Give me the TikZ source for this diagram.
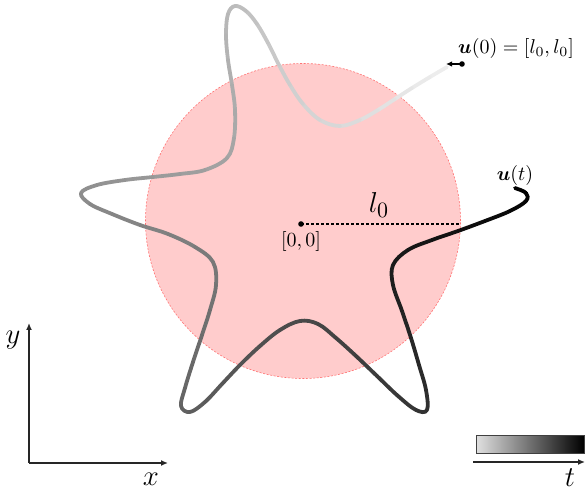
\documentclass[tikz,border=0pt]{standalone}
\usepackage{bm}
\usetikzlibrary{calc,arrows.meta}
\begin{document}
\begin{tikzpicture}[x=0.5pt,y=-0.5pt,
  traj/.style={line width=1.9pt,line cap=round},
  axisarrow/.style={line width=0.65pt,black!85,-{Latex[length=3.5pt,width=3pt]}},
  lbl/.style={inner sep=0pt},
  biglbl/.style={inner sep=0pt,font=\Large}]
\useasboundingbox (0,0) rectangle (585,491);
% disk
\fill[red!20] (303,221) circle[radius=78.75pt];
\draw[red!55,line width=0.3pt,dash pattern=on 1pt off 0.8pt] (303,221) circle[radius=78.75pt];
% radius
\coordinate (O) at (301,224);
\coordinate (E) at (461,224);
\draw[line width=0.6pt,dash pattern=on 1.5pt off 1pt] (O) -- (E);
\fill (O) circle[radius=1.4pt];
\node[lbl] (orig) at (301,242) {$[0,0]$};
\node[lbl] (l0) at (379,205) {\fontsize{15.5}{18}\selectfont $l_0$};
% trajectory
\foreach \x/\y [count=\i] in {447/67,430/77,412/88,395/99,378/110,360/120,340/126,320/120,303/104,290/85,279/65,268/43,257/24,246/11,235/6,228/14,226/35,228/60,232/85,235/110,234/138,227/158,205/170,180/174,153/177,125/180,97/185,81/193,90/204,112/214,140/225,168/234,195/247,213/262,216/285,210/310,202/335,193/362,185/388,181/406,190/412,205/402,222/384,240/365,260/346,280/330,300/321,318/324,336/338,356/356,377/376,398/396,416/410,427/410,426/390,419/365,411/338,402/311,393/285,393/265,408/250,432/240,458/231,485/221,510/211,526/201,526/193,515/188}
  {\coordinate (c\i) at (\x,\y);}
\coordinate (c0) at (c1);
\coordinate (c69) at (c68);
\foreach \i in {1,...,67} {
  \pgfmathtruncatemacro\im{\i-1}
  \pgfmathtruncatemacro\ip{\i+1}
  \pgfmathtruncatemacro\ipp{\i+2}
  \pgfmathsetmacro\g{7+93*(\i-1)/66}
  \draw[traj,black!\g] (c\i) .. controls ($(c\i)+0.16667*(c\ip)-0.16667*(c\im)$) and ($(c\ip)-0.16667*(c\ipp)+0.16667*(c\i)$) .. (c\ip);
}
% initial condition
\coordinate (S) at (462,64);
\coordinate (V) at (446,64);
\draw[line width=0.6pt,-{Latex[length=3pt,width=2.8pt]}] (S) -- (V);
\fill (S) circle[radius=1.4pt];
\node[lbl] (u0) at (516,48.5) {$\bm{u}(0)=[l_0,l_0]$};
\node[lbl] (ut) at (515,176) {$\bm{u}(t)$};
% axes
\coordinate (A0) at (29,463);
\coordinate (AY) at (29,323);
\coordinate (AX) at (168,463);
\draw[axisarrow] (A0) -- (AY);
\draw[axisarrow] (A0) -- (AX);
\node[biglbl] (ylab) at (13,340) {$y$};
\node[biglbl] (xlab) at (151,479) {$x$};
% colour bar
\shade[left color=black!12,right color=black] (476,436) rectangle (584,454);
\draw[black!75,line width=0.5pt] (476,436) rectangle (584,454);
\coordinate (T0) at (473,462);
\coordinate (T1) at (585,462);
\draw[axisarrow] (T0) -- (T1);
\node[biglbl] (tlab) at (570,478) {$t$};
\end{tikzpicture}
\end{document}
